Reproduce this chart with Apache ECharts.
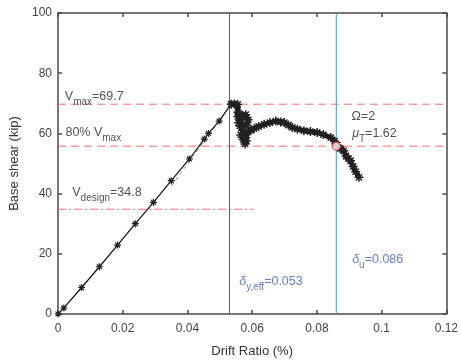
<!DOCTYPE html>
<html>
<head>
<meta charset="utf-8">
<script src="https://cdn.jsdelivr.net/npm/echarts@6/dist/echarts.min.js"></script>
<style>
  html, body { margin: 0; padding: 0; background: #fff; }
  #chart { width: 461px; height: 363px; }
</style>
</head>
<body>
<div id="chart"></div>
<script>
// pushover curve, elastic branch (drift %, base shear kip)
const riseDrift = [0, 0.0018, 0.0073, 0.0128, 0.0184, 0.0239, 0.0295, 0.0350, 0.0406, 0.0452, 0.0465, 0.0498, 0.0535];
const riseShear = [0, 2.0, 8.8, 15.7, 22.9, 30.0, 37.1, 44.3, 51.5, 58.1, 60.0, 64.1, 69.7];

// post-peak branch
const postDrift = [0.0535, 0.0545, 0.0555, 0.0556, 0.0560, 0.0556, 0.0565, 0.0558, 0.0568, 0.0580, 0.0588, 0.0583,
  0.0572, 0.0562, 0.0570, 0.0575, 0.0565, 0.0572, 0.0578, 0.0582, 0.0580, 0.0588, 0.0595, 0.0606, 0.0620, 0.0637,
  0.0655, 0.0673, 0.0688, 0.0699, 0.0712, 0.0724, 0.0740, 0.0760, 0.0780, 0.0801, 0.0820, 0.0843, 0.0855, 0.0863,
  0.0872, 0.0883, 0.0890, 0.0898, 0.0904, 0.0912, 0.0920, 0.0930];
const postShear = [69.7, 69.8, 69.6, 67.0, 66.5, 65.5, 64.5, 63.5, 65.8, 66.2, 64.5, 62.8,
  63.0, 62.5, 61.0, 60.0, 59.5, 58.0, 56.5, 57.5, 58.5, 60.5, 61.0, 61.6, 62.3, 63.0,
  63.6, 64.1, 63.8, 63.6, 62.8, 62.0, 61.4, 60.9, 60.6, 60.3, 59.6, 58.6, 57.4, 56.1,
  55.0, 54.2, 52.5, 51.6, 50.9, 49.0, 47.3, 45.4];

// idealized line (thin gray dashed)
const idealDrift = [0.035, 0.0535];
const idealShear = [42.5, 69.7];

const vMax = 69.7;
const v80 = 55.76;
const vDesign = 34.8;
const deltaY = 0.053;
const deltaU = 0.086;
const designEnd = 0.0603;

const xTicks = [0, 0.02, 0.04, 0.06, 0.08, 0.1, 0.12];
const yTicks = [0, 20, 40, 60, 80, 100];

const star = 'path://M5,0L5,10M0,5L10,5M1.5,1.5L8.5,8.5M8.5,1.5L1.5,8.5';
const axisColor = '#4a4a4a';
const font = 'Liberation Sans, Arial, sans-serif';

const zip = (a, b) => a.map((v, i) => [v, b[i]]);

const annotations = [
  { pos: [0.0021, 71.5], text: '{t|V}{s|max}{t|=69.7}' },
  { pos: [0.0023, 59.3], text: '{t|80% V}{s|max}' },
  { pos: [0.0044, 39.5], text: '{t|V}{s|design}{t|=34.8}' },
  { pos: [0.0907, 64.7], text: '{t|\u03A9=2}' },
  { pos: [0.0909, 59.2], text: '{i|\u03BC}{s|T}{t|=1.62}' },
  { pos: [0.0560, 9.8], text: '{bi|\u03B4}{bs|y,eff}{b|=0.053}' },
  { pos: [0.0909, 17.2], text: '{bi|\u03B4}{bs|u}{b|=0.086}' }
];

const main = { fontSize: 12.5, fontFamily: font, lineHeight: 16, verticalAlign: 'bottom', padding: [0, 0, 4, 0] };
const sub = { fontSize: 10, fontFamily: font, lineHeight: 16, verticalAlign: 'bottom' };
const rich = {
  t: Object.assign({ color: '#262626' }, main),
  i: Object.assign({ color: '#262626', fontStyle: 'italic' }, main),
  s: Object.assign({ color: '#262626' }, sub),
  b: Object.assign({ color: '#3a5cb8' }, main),
  bi: Object.assign({ color: '#3a5cb8', fontStyle: 'italic' }, main),
  bs: Object.assign({ color: '#3a5cb8' }, sub)
};

const hLine = (y, x0, x1, type, color) => ({
  type: 'line', data: [[x0, y], [x1, y]], symbol: 'none', silent: true,
  lineStyle: { color: color, width: 1, type: type }, z: 1
});
const vLine = (x, color) => ({
  type: 'line', data: [[x, 0], [x, 100]], symbol: 'none', silent: true,
  lineStyle: { color: color, width: 1 }, z: 1
});

const chart = echarts.init(document.getElementById('chart'), null, { renderer: 'canvas' });

const option = {
  animation: false,
  backgroundColor: '#fff',
  grid: { left: 58, right: 13, top: 13, bottom: 47, containLabel: false },
  xAxis: [
    {
      type: 'value', min: 0, max: 0.12, interval: 0.02,
      name: 'Drift Ratio (%)', nameLocation: 'middle', nameGap: 31,
      nameTextStyle: { fontSize: 13, color: '#333', fontFamily: font },
      axisLine: { show: true, onZero: false, lineStyle: { color: axisColor, width: 1.5 } },
      axisTick: { show: true, inside: true, length: 4, lineStyle: { color: axisColor, width: 1.5 } },
      axisLabel: { color: '#444', fontSize: 12, fontFamily: font, margin: 9,
        formatter: v => String(+v.toFixed(2)) },
      splitLine: { show: false }
    },
    {
      type: 'value', min: 0, max: 0.12, interval: 0.02, position: 'top',
      axisLine: { show: true, onZero: false, lineStyle: { color: axisColor, width: 1.5 } },
      axisTick: { show: true, inside: true, length: 4, lineStyle: { color: axisColor, width: 1.5 } },
      axisLabel: { show: false }, splitLine: { show: false }
    }
  ],
  yAxis: [
    {
      type: 'value', min: 0, max: 100, interval: 20,
      name: 'Base shear (kip)', nameLocation: 'middle', nameGap: 32, nameRotate: 90,
      nameTextStyle: { fontSize: 13, color: '#333', fontFamily: font },
      axisLine: { show: true, onZero: false, lineStyle: { color: axisColor, width: 1.5 } },
      axisTick: { show: true, inside: true, length: 4, lineStyle: { color: axisColor, width: 1.5 } },
      axisLabel: { color: '#444', fontSize: 12, fontFamily: font, margin: 6 },
      splitLine: { show: false }
    },
    {
      type: 'value', min: 0, max: 100, interval: 20, position: 'right',
      axisLine: { show: true, onZero: false, lineStyle: { color: axisColor, width: 1.5 } },
      axisTick: { show: true, inside: true, length: 4, lineStyle: { color: axisColor, width: 1.5 } },
      axisLabel: { show: false }, splitLine: { show: false }
    }
  ],
  series: [
    hLine(vMax, 0, 0.12, [8, 5], '#ff6b6b'),
    hLine(v80, 0, 0.12, [8, 5], '#ff6b6b'),
    hLine(vDesign, 0, designEnd, [8, 3, 2, 3], '#ff6b6b'),
    vLine(deltaY, '#2b6ea6'),
    vLine(deltaU, '#3a9ad9'),
    {
      type: 'line', data: zip(idealDrift, idealShear), symbol: 'none', silent: true,
      lineStyle: { color: '#777', width: 0.8, type: [4, 3] }, z: 2
    },
    {
      type: 'line', data: zip(riseDrift, riseShear), symbol: star, symbolSize: 7,
      itemStyle: { color: 'transparent', borderColor: '#222', borderWidth: 1.2 },
      lineStyle: { color: '#111', width: 1.2 }, z: 3
    },
    {
      type: 'line', data: zip(postDrift, postShear), symbol: star, symbolSize: 9,
      itemStyle: { color: 'transparent', borderColor: '#222', borderWidth: 1.5 },
      lineStyle: { color: '#111', width: 5 }, z: 3
    },
    {
      type: 'scatter', data: [[deltaU, v80]], symbol: 'circle', symbolSize: 8,
      itemStyle: { color: '#fff', borderColor: '#ff3333', borderWidth: 1.2 }, z: 5
    },
    {
      type: 'scatter', silent: true, symbolSize: 0, z: 6,
      data: annotations.map(a => ({ value: a.pos, text: a.text })),
      label: {
        show: true, position: 'right', distance: 0,
        formatter: p => p.data.text, rich: rich
      }
    }
  ]
};

chart.setOption(option);
</script>
</body>
</html>
